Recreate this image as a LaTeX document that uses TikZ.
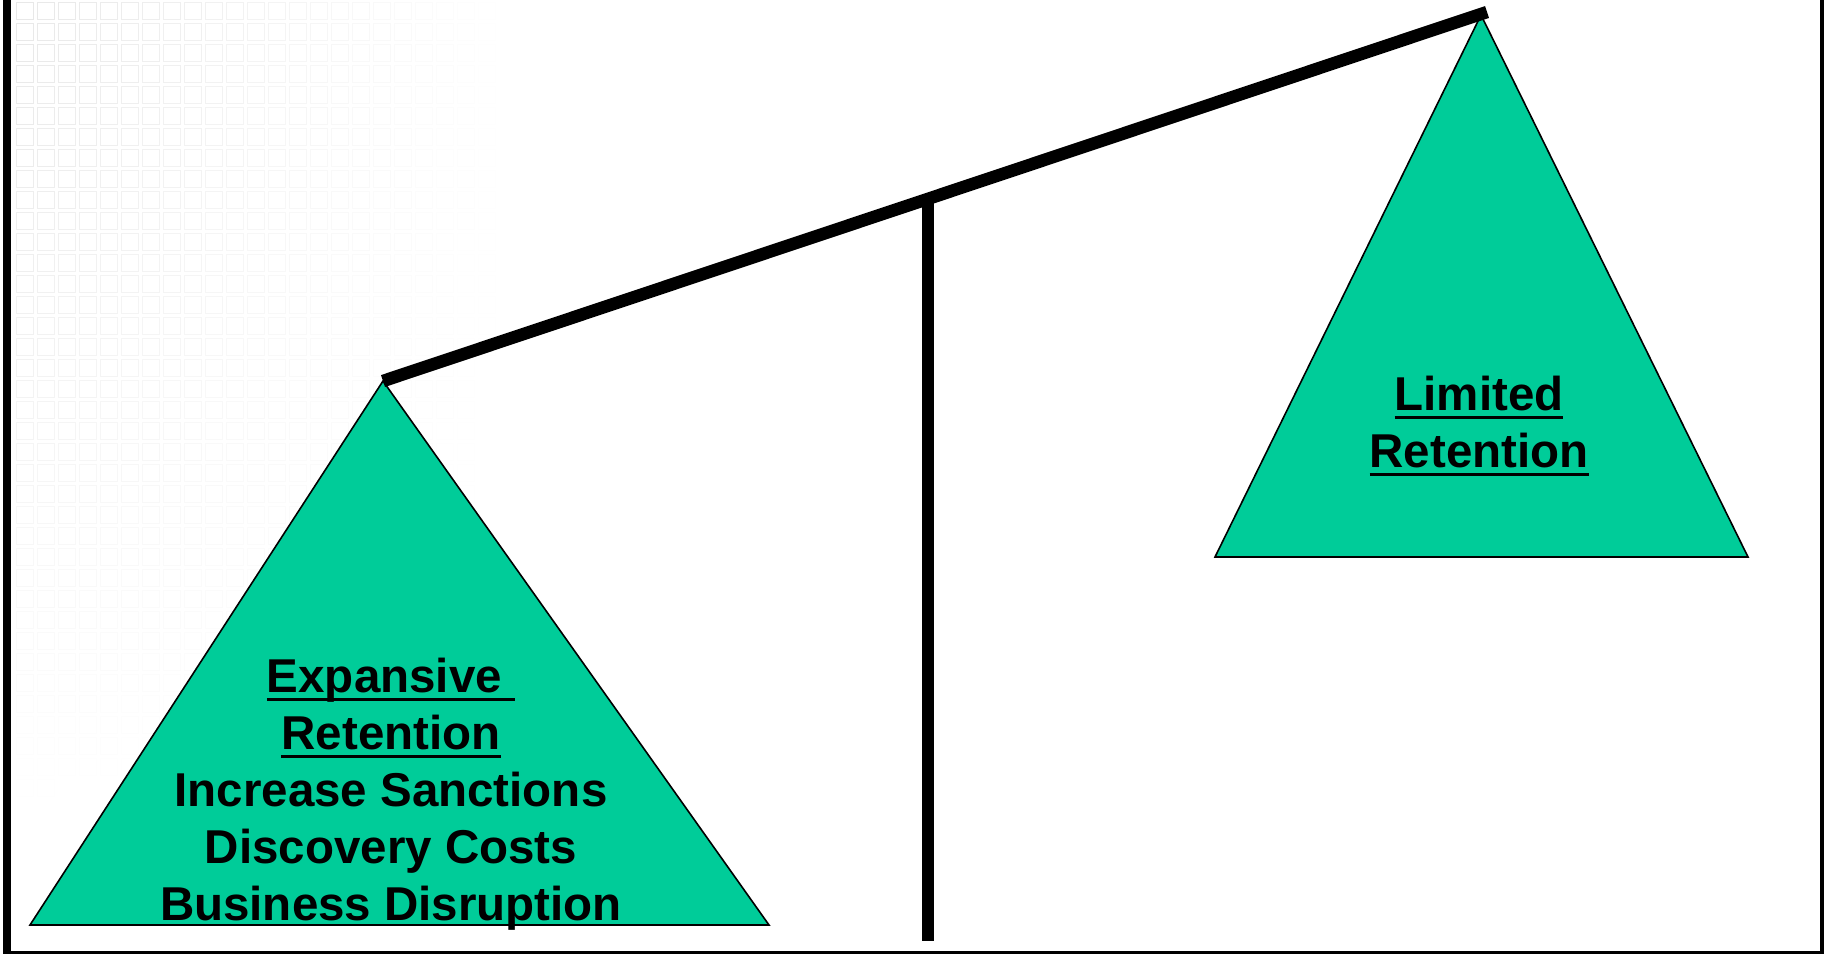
\documentclass[tikz,border=0pt]{standalone}
\usepackage{fontspec}
\setmainfont{Liberation Sans}
\definecolor{pan}{HTML}{00CC99}
\newcommand\ulbox[1]{\setbox0\hbox{#1}\rlap{\rule[-9.3pt]{\wd0}{3.3pt}}\box0}
\tikzset{
  pan/.style={fill=pan,draw=black,line width=1.6pt,line join=miter},
  txt/.style={inner sep=0pt,anchor=base,font=\fontsize{47.5}{57}\selectfont\bfseries}
}
\begin{document}
\begin{tikzpicture}[x=1pt,y=-1pt]
\useasboundingbox (0,0) rectangle (1829,954);
% faint grid in the corner
\foreach \i in {0,...,22}
\foreach \j in {0,...,37}
{
\pgfmathsetmacro\op{max(0,(1-\i/23)*(1-\j/38))*0.4}
\draw[gray!45,line width=0.8pt,opacity=\op] (16+\i*21,2+\j*21) rectangle +(17,17);
}
\coordinate (lapex) at (383,381);
\coordinate (rapex) at (1487,12);
\coordinate (pivot) at (928,200);
\coordinate (foot) at (928,941);

\filldraw[pan] (lapex) -- (30,925) -- (769,925) -- cycle;
\filldraw[pan] (1481,15) -- (1215,557) -- (1748,557) -- cycle;

\draw[line width=12.5pt] (lapex) -- (rapex);
\draw[line width=12pt] (pivot) -- (foot);

\node[txt] (exp1) at (391,692) {\ulbox{Expansive\ }};
\node[txt] (exp2) at (391,749) {\ulbox{Retention}};
\node[txt] (exp3) at (391,806) {Increase Sanctions};
\node[txt] (exp4) at (391,863) {Discovery Costs};
\node[txt] (exp5) at (391,920) {Business Disruption};

\node[txt] (lim1) at (1479,410) {\ulbox{Limited}};
\node[txt] (lim2) at (1479,467) {\ulbox{Retention}};

% frame
\draw[line width=8pt] (7,0) -- (7,954);
\draw[line width=3.5pt] (3,952.3) -- (1824,952.3);
\draw[line width=4pt] (1822,0) -- (1822,954);
\end{tikzpicture}
\end{document}
